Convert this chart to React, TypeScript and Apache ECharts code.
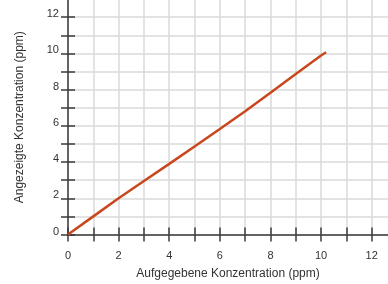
import React, { useEffect, useRef } from "react";
import * as echarts from "echarts";

const givenConc = [0, 1, 2, 3, 4, 5, 6, 7, 8, 9, 10, 10.2];
const shownConc = [0, 1, 2.0, 2.95, 3.9, 4.86, 5.82, 6.8, 7.83, 8.86, 9.88, 10.06];
const xTickLabels = [0, 2, 4, 6, 8, 10, 12];
const yTickLabels = [0, 2, 4, 6, 8, 10, 12];
const xName = "Aufgegebene Konzentration (ppm)";
const yName = "Angezeigte Konzentration (ppm)";

const FONT = "'Liberation Sans', Arial, Helvetica, sans-serif";
const TEXT = "#333333";
const AXIS = "#3a3a3a";
const GRID = "#dadada";
const LINE = "#c8471c";

export default function App() {
  const ref = useRef<HTMLDivElement>(null);
  useEffect(() => {
    if (!ref.current) return;
    const chart = echarts.init(ref.current, undefined, { renderer: "svg" });
    const xFmt = (v: number) => (xTickLabels.includes(v) ? String(v) : "");
    const yFmt = (v: number) => (yTickLabels.includes(v) ? String(v) : "");
    const xCommon = { type: "value" as const, min: 0, max: 13, interval: 1, position: "bottom" as const };
    const yCommon = { type: "value" as const, min: 0, max: 13.5, interval: 1, position: "left" as const };
    chart.setOption({
      animation: false,
      grid: { left: 68, right: 3, top: 10, bottom: 49, containLabel: false },
      xAxis: [
        {
          ...xCommon,
          name: xName,
          nameLocation: "middle",
          nameGap: 32.5,
          nameTextStyle: { fontFamily: FONT, fontSize: 12, color: TEXT, padding: [0, 9, 0, 0] },
          axisLine: { show: true, onZero: false, lineStyle: { color: AXIS, width: 1.5 } },
          axisTick: { show: true, inside: false, length: 7, lineStyle: { color: AXIS, width: 1.5 } },
          axisLabel: { show: true, formatter: xFmt, margin: 15, fontFamily: FONT, fontSize: 11, color: TEXT, showMaxLabel: false },
          splitLine: { show: true, lineStyle: { color: GRID, width: 1.5 } },
        },
        {
          ...xCommon,
          axisLine: { show: false },
          axisTick: { show: true, inside: true, length: 7, lineStyle: { color: AXIS, width: 1.5 } },
          axisLabel: { show: false },
          splitLine: { show: false },
        },
      ],
      yAxis: [
        {
          ...yCommon,
          name: yName,
          nameLocation: "middle",
          nameGap: 43.5,
          nameRotate: 90,
          nameTextStyle: { fontFamily: FONT, fontSize: 12, color: TEXT, padding: [0, 10, 0, 0] },
          axisLine: { show: true, onZero: false, lineStyle: { color: AXIS, width: 1.5 } },
          axisTick: { show: true, inside: false, length: 7, lineStyle: { color: AXIS, width: 1.5 } },
          axisLabel: { show: true, formatter: yFmt, margin: 9, fontFamily: FONT, fontSize: 11, color: TEXT, verticalAlign: "bottom", lineHeight: 8, showMaxLabel: false },
          splitLine: { show: true, lineStyle: { color: GRID, width: 1.5 } },
        },
        {
          ...yCommon,
          axisLine: { show: false },
          axisTick: { show: true, inside: true, length: 7, lineStyle: { color: AXIS, width: 1.5 } },
          axisLabel: { show: false },
          splitLine: { show: false },
        },
      ],
      series: [
        {
          type: "line",
          xAxisIndex: 0,
          yAxisIndex: 0,
          data: givenConc.map((x, i) => [x, shownConc[i]]),
          showSymbol: false,
          symbol: "none",
          lineStyle: { color: LINE, width: 2.5 },
          z: 5,
        },
      ],
    });
    return () => chart.dispose();
  }, []);
  return (
    <div
      ref={ref}
      style={{ position: "fixed", left: 0, top: -20, width: 400, height: 304 }}
    />
  );
}
